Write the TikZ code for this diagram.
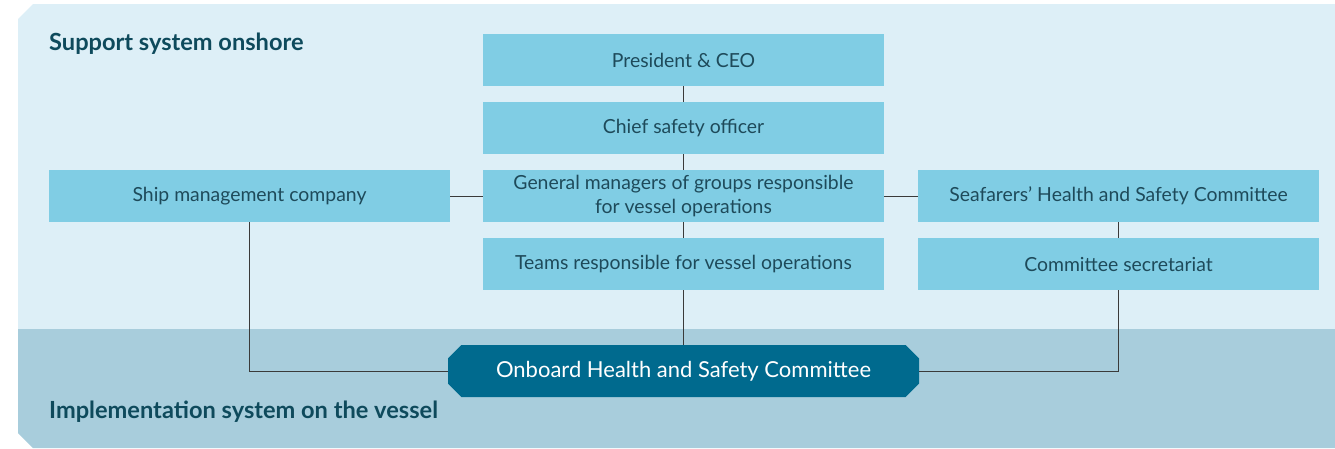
\documentclass[tikz,border=0pt]{standalone}
\usepackage{fontspec}
\setmainfont{Lato}
\usetikzlibrary{shapes.misc}
\definecolor{panelA}{HTML}{DDEFF7}
\definecolor{panelB}{HTML}{A8CDDC}
\definecolor{boxfill}{HTML}{80CDE4}
\definecolor{octfill}{HTML}{006A8E}
\definecolor{boxtext}{HTML}{1E4A5A}
\definecolor{titletext}{HTML}{0E4A5C}
\definecolor{linecol}{HTML}{3A3A3A}
\tikzset{
  orgbox/.style={rectangle, fill=boxfill, minimum width=401pt, minimum height=52pt,
    inner sep=0pt, align=center, text=boxtext, font=\fontsize{19.4}{24}\selectfont},
  octbox/.style={chamfered rectangle, chamfered rectangle xsep=14pt, fill=octfill,
    minimum width=471pt, minimum height=52pt, inner sep=0pt, text=white,
    font=\fontsize{22}{26}\selectfont},
  conn/.style={draw=linecol, line width=0.9pt},
  sectitle/.style={anchor=base west, inner sep=0pt, text=titletext,
    font=\fontsize{23.6}{27}\selectfont\bfseries}
}
\begin{document}
\begin{tikzpicture}[x=1pt,y=-1pt]
\useasboundingbox (0,0) rectangle (1335,448);
\fill[white] (0,0) rectangle (1335,448);
\fill[panelA] (33,4) -- (1335,4) -- (1335,329) -- (18,329) -- (18,19) -- cycle;
\fill[panelB] (18,329) -- (1335,329) -- (1335,448) -- (33,448) -- (18,433) -- cycle;

\node[sectitle] (t1) at (49,50) {Support system onshore};
\node[sectitle] (t2) at (49,418) {Implementation system on the vessel};

\node[orgbox] (pres) at (683.5,60) {President \& CEO};
\node[orgbox] (cso) at (683.5,128) {Chief safety officer};
\node[orgbox] (gm) at (683.5,196) {General managers of groups responsible\\for vessel operations};
\node[orgbox] (teams) at (683.5,264) {Teams responsible for vessel operations};
\node[orgbox] (ship) at (249.5,196) {Ship management company};
\node[orgbox] (sea) at (1118.5,196) {Seafarers’ Health and Safety Committee};
\node[orgbox] (sec) at (1118.5,264) {Committee secretariat};
\node[octbox] (onb) at (683.5,371) {Onboard Health and Safety Committee};

\draw[conn] (pres) -- (cso);
\draw[conn] (cso) -- (gm);
\draw[conn] (gm) -- (teams);
\draw[conn] (teams) -- (onb);
\draw[conn] (ship) -- (gm);
\draw[conn] (gm) -- (sea);
\draw[conn] (sea) -- (sec);
\draw[conn] (ship.south) |- (onb.west);
\draw[conn] (sec.south) |- (onb.east);
\end{tikzpicture}
\end{document}
